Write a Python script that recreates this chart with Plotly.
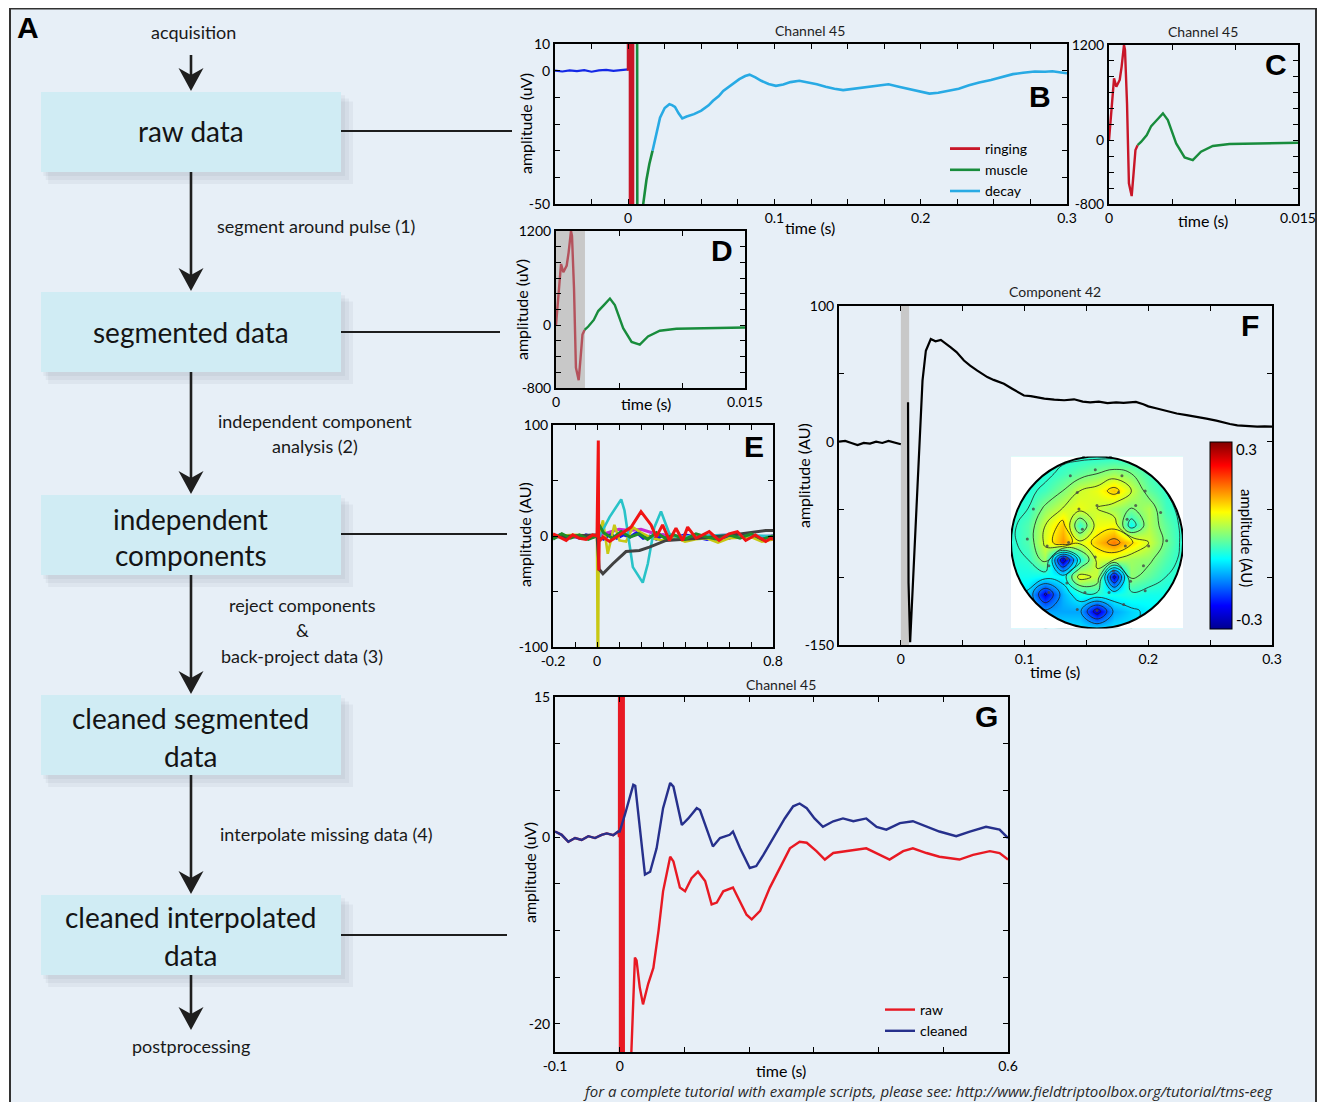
import math
import plotly.graph_objects as go

# page geometry: the figure sits inside the default 8px body margin
OX, OY = 8, 8
FW, FH = 1309, 1094
FONT = "Lato"
BOLD = "Liberation Sans"


def px(x):
    return (x - OX) / FW


def py(y):
    return 1 - (y - OY) / FH


# ---------------------------------------------------------------- data
# Panel B : Channel 45, time (s) vs amplitude (uV)
b_pre_t = [-0.05, -0.045, -0.04, -0.035, -0.03, -0.025, -0.02, -0.015, -0.01, -0.005, 0.0]
b_pre_v = [0.0, -0.3, 0.1, -0.2, 0.2, -0.4, 0.1, 0.3, -0.1, 0.2, 0.5]
b_ring_t = [0.0, 0.0005, 0.001, 0.0015, 0.002, 0.0025, 0.003, 0.0035]
b_ring_v = [0, 800, 1200, -600, -700, 500, -400, 300]
b_musc_t = [0.0035, 0.0058, 0.0066, 0.0103, 0.0125, 0.0145, 0.0167]
b_musc_v = [300, 200, -250, -50, -41, -35, -30]
b_decay_t = [0.0167, 0.019, 0.0218, 0.025, 0.0282, 0.030, 0.032, 0.0345, 0.037, 0.040, 0.045,
             0.05, 0.055, 0.058, 0.062, 0.065, 0.07, 0.076, 0.08, 0.083, 0.087, 0.091, 0.096,
             0.101, 0.106, 0.111, 0.117, 0.123, 0.129, 0.135, 0.141, 0.147, 0.153, 0.16,
             0.168, 0.173, 0.178, 0.185, 0.194, 0.2, 0.206, 0.212, 0.219, 0.226, 0.233, 0.24,
             0.248, 0.256, 0.263, 0.27, 0.278, 0.285, 0.29, 0.296, 0.3]
b_decay_v = [-30, -24, -17.6, -14, -12.6, -12.9, -13.6, -16, -17.9, -17.2, -16.3,
             -15.0, -13, -11.3, -9.5, -7.6, -5.5, -3.2, -2, -1.5, -2.5, -3.8, -5,
             -5.7, -5.2, -4.3, -3.8, -4.4, -5.1, -6, -6.8, -7.3, -6.9, -6.2,
             -5.7, -5.4, -5.1, -6, -7.0, -7.9, -8.6, -8.3, -7.6, -6.8, -5.5, -4.4,
             -3.5, -2.2, -1.3, -0.8, -0.3, -0.4, -0.2, -0.7, -1.0]

# Panels C and D : first 15 ms after the pulse
c_ring_t = [0, 0.00026, 0.0004, 0.00058, 0.00085, 0.001, 0.00119, 0.00127, 0.00143,
            0.00158, 0.0018, 0.00195, 0.0021, 0.00227]
c_ring_v = [0, 507, 780, 675, 760, 925, 1200, 1137, 465, -540, -700, -415, -120, -60]
c_musc_t = [0.00227, 0.00256, 0.003, 0.00335, 0.0038, 0.00428, 0.00467, 0.00533, 0.006,
            0.00665, 0.0073, 0.00824, 0.00956, 0.0114, 0.015]
c_musc_v = [-60, -17, 67, 180, 256, 340, 256, -38, -214, -247, -143, -71, -46, -38, -29]
d_reject = [0.0, 0.0023]

# Panel E : independent components (AU)
e_blue_t = [-0.2, -0.17, -0.14, -0.11, -0.08, -0.05, -0.02, 0.0, 0.03, 0.06, 0.09, 0.12, 0.15,
            0.18, 0.21, 0.24, 0.27, 0.3, 0.35, 0.4, 0.45, 0.5, 0.55, 0.6, 0.65, 0.7, 0.75, 0.8]
e_blue_v = [-2, 1, -3, 0, -2, 1, -1, 0, -3, 2, -2, 1, -1, 3, -2, 0, -3, 1, -2, 1, -1, -3, 0,
            -2, 1, -1, -2, 0]
e_mag_t = [-0.2, -0.1, 0.0, 0.05, 0.1, 0.15, 0.2, 0.25, 0.3, 0.4, 0.5, 0.6, 0.7, 0.8]
e_mag_v = [1, -1, 0, 3, 6, 5, 6, 3, 1, -1, 0, 1, -1, 0]
e_olive_t = [-0.2, -0.1, 0.0, 0.004, 0.008, 0.027, 0.049, 0.079, 0.102, 0.132, 0.163, 0.2,
             0.25, 0.3, 0.35, 0.4, 0.45, 0.5, 0.55, 0.6, 0.7, 0.75, 0.8]
e_olive_v = [0, 1, 0, -150, 0, 14, -16, 10, -4, -5, 8, 3, -2, -4, -1, -5, -3, -2, -6, -2,
             -1, -5, -3]
e_cyan_t = [0.0, 0.012, 0.057, 0.11, 0.125, 0.163, 0.208, 0.231, 0.261, 0.291, 0.329, 0.36,
            0.45, 0.6, 0.8]
e_cyan_v = [0, 0, 17, 33, 23, -28, -42, -25, 8, 22, 2, -1, 0, 1, 0]
e_gray_t = [-0.2, -0.1, 0.0, 0.01, 0.027, 0.072, 0.132, 0.193, 0.238, 0.314, 0.465, 0.616,
            0.7, 0.767, 0.8]
e_gray_v = [-1, 0, 1, -30, -34, -25, -14, -13, -10, -4, -2, 1, 3, 5, 5]
e_green_t = [-0.2, -0.16, -0.12, -0.08, -0.04, 0.0, 0.01, 0.03, 0.07, 0.11, 0.15, 0.19,
             0.23, 0.27, 0.31, 0.35, 0.4, 0.45, 0.5, 0.55, 0.6, 0.65, 0.7, 0.75, 0.8]
e_green_v = [-3, 2, -2, 1, -3, 0, 10, 3, -2, 4, -1, 2, -3, 3, -2, 1, -3, 2, -1, -3, 1, -2,
             2, -3, 0]
e_red_t = [-0.2, -0.17, -0.14, -0.11, -0.08, -0.05, -0.02, 0.0, 0.006, 0.008, 0.01, 0.027,
           0.057, 0.102, 0.155, 0.2, 0.246, 0.269, 0.298, 0.329, 0.359, 0.389, 0.412, 0.45,
           0.51, 0.555, 0.6, 0.638, 0.676, 0.72, 0.767, 0.79, 0.8]
e_red_v = [2, -1, -4, 1, -2, -3, 1, 0, 86, -31, -5, -1, -5, 1, 8, 22, 10, -1, 10, -4, 7, -4,
           8, -2, 4, -4, 2, 4, -4, 1, -5, -2, -3]

# Panel F : Component 42
f_pre_t = [-0.05, -0.045, -0.04, -0.035, -0.03, -0.025, -0.02, -0.015, -0.01, -0.005, 0.0]
f_pre_v = [0, 0.5, -1, -2.5, -1, -1.5, 0, -1, 0.5, -0.5, -2]
f_t = [0.0058, 0.0062, 0.0075, 0.0108, 0.0148, 0.0175, 0.0202, 0.0242, 0.028, 0.0323, 0.0403,
       0.045, 0.051, 0.056, 0.0618, 0.066, 0.0699, 0.075, 0.0833, 0.09, 0.0995, 0.105, 0.11,
       0.116, 0.124, 0.132, 0.14, 0.147, 0.153, 0.16, 0.167, 0.174, 0.18, 0.185, 0.19, 0.196,
       0.2, 0.207, 0.215, 0.223, 0.231, 0.239, 0.247, 0.255, 0.261, 0.266, 0.272, 0.28,
       0.288, 0.294, 0.3]
f_v = [29, -104, -148, -82, -3.7, 45, 67, 75.6, 74, 75, 69.5,
       66, 59.8, 56, 52.4, 50, 47.6, 45.5, 42.7, 39, 34, 33.5, 32.5,
       31.7, 31, 30.5, 31.2, 29.5, 29, 29.5, 28.4, 28.9, 28.5, 28.7, 29.3, 27.5,
       26, 24.4, 22.6, 20.7, 19.5, 18.5, 17, 15.5, 14, 13, 12, 11.5,
       11, 11.3, 11]
f_reject = [0.0, 0.0067]

# topography of component 42 (normalised head coordinates)
topo_u = [-1.0, -0.8, -0.6, -0.4, -0.2, 0.0, 0.2, 0.4, 0.6, 0.8, 1.0]
topo_v = [-1.0, -0.8, -0.6, -0.4, -0.2, 0.0, 0.2, 0.4, 0.6, 0.8, 1.0]
topo_z = [  # rows from v=-1 (back) to v=1 (front)
    [-0.10, -0.10, -0.10, -0.10, -0.10, -0.10, -0.10, -0.10, -0.10, -0.10, -0.10],
    [-0.09, -0.10, -0.14, -0.14, -0.14, -0.28, -0.14, -0.11, -0.09, -0.08, -0.08],
    [-0.08, -0.11, -0.26, -0.13, -0.07, -0.06, -0.07, -0.06, -0.07, -0.07, -0.07],
    [-0.07, -0.07, -0.08, -0.08, 0.07, 0.04, -0.27, 0.01, -0.02, -0.05, -0.06],
    [-0.06, -0.05, 0.02, -0.29, -0.07, 0.06, 0.05, 0.02, 0.01, -0.03, -0.06],
    [-0.06, -0.03, 0.06, 0.15, 0.06, 0.12, 0.17, 0.11, 0.05, -0.01, -0.06],
    [-0.06, -0.03, 0.05, 0.12, -0.05, 0.07, 0.08, -0.08, 0.03, -0.02, -0.06],
    [-0.06, -0.05, 0.01, 0.05, 0.07, 0.05, 0.02, 0.00, 0.03, -0.04, -0.06],
    [-0.06, -0.06, -0.04, 0.00, 0.05, 0.07, 0.12, 0.05, -0.02, -0.05, -0.06],
    [-0.06, -0.06, -0.06, -0.04, -0.02, 0.00, 0.02, 0.00, -0.04, -0.06, -0.06],
    [-0.06, -0.06, -0.06, -0.06, -0.06, -0.06, -0.06, -0.06, -0.06, -0.06, -0.06],
]
elec_u = [-0.31, -0.02, 0.29, -0.74, -0.23, 0.25, 0.56, -0.21, 0.0, 0.45, 0.74, -0.81, -0.58,
          -0.33, -0.17, 0.33, 0.60, 0.81, -0.56, -0.35, -0.02, 0.19, 0.35, 0.54, -0.35, -0.14,
          0.14, 0.39, 0.56, -0.56, 0.0, 0.31, -0.23]
elec_v = [0.775, 0.845, 0.775, 0.39, 0.58, 0.58, 0.60, 0.39, 0.43, 0.43, 0.35, 0.04, -0.04,
          0.0, 0.155, -0.04, -0.04, 0.02, -0.27, -0.19, -0.17, -0.33, 0.27, -0.27, -0.47, -0.58,
          -0.58, -0.45, -0.56, -0.58, -0.79, -0.72, -0.78]

# Panel G : Channel 45 raw vs cleaned
g_pre_t = [-0.1, -0.0897, -0.0794, -0.069, -0.0588, -0.0485, -0.0382, -0.028, -0.02, -0.01, -0.0022]
g_pre_v = [0.6, 0.25, -0.5, -0.1, -0.3, 0.1, -0.1, 0.25, 0.4, 0.2, 0.6]
g_ring_t = [-0.001, 0.0, 0.001, 0.002, 0.003, 0.004, 0.005, 0.006, 0.0065, 0.012]
g_ring_v = [0, 200, -300, 400, -350, 250, -300, 150, -200, -60]
g_raw_t = [0.018, 0.0235, 0.026, 0.031, 0.036, 0.044, 0.052, 0.06, 0.067, 0.078, 0.083, 0.093,
           0.101, 0.111, 0.121, 0.132, 0.142, 0.15, 0.16, 0.175, 0.186, 0.196, 0.204, 0.217,
           0.232, 0.247, 0.263, 0.278, 0.289, 0.304, 0.317, 0.33, 0.35, 0.381, 0.402, 0.417,
           0.438, 0.453, 0.474, 0.494, 0.525, 0.546, 0.572, 0.587, 0.6]
g_raw_v = [-23, -12.9, -13.2, -16.1, -17.9, -15.7, -14, -10, -5.8, -2.1, -2.6, -5.4,
           -5.8, -4.4, -3.7, -4.7, -7.2, -7.0, -5.8, -5.4, -6.9, -8.3, -8.8, -7.9,
           -5.4, -3.3, -1.2, -0.5, -0.6, -1.5, -2.4, -1.7, -1.5, -1.2, -1.9, -2.4,
           -1.5, -1.2, -1.7, -2.1, -2.4, -1.9, -1.5, -1.7, -2.4]
g_cln_t = [0.0, 0.008, 0.021, 0.024, 0.031, 0.039, 0.047, 0.057, 0.067, 0.078, 0.083, 0.096,
           0.106, 0.119, 0.124, 0.134, 0.144, 0.155, 0.17, 0.175, 0.186, 0.201, 0.211, 0.222,
           0.237, 0.255, 0.268, 0.278, 0.289, 0.301, 0.314, 0.33, 0.345, 0.361, 0.381, 0.397,
           0.412, 0.433, 0.453, 0.474, 0.494, 0.52, 0.541, 0.566, 0.587, 0.6]
g_cln_v = [0.6, 2.4, 5.6, 5.5, 1.3, -4.0, -3.7, -1.2, 3.1, 5.8, 5.4, 1.3,
           2.0, 3.1, 2.9, 1.0, -1.0, -0.1, 0.25, 0.6, -1.2, -3.3, -3.1, -1.9,
           -0.1, 2.0, 3.3, 3.6, 3.1, 2.0, 1.1, 1.7, 2.0, 1.7, 2.0, 1.1,
           0.8, 1.5, 1.7, 1.1, 0.6, 0.1, 0.6, 1.1, 0.8, -0.1]


def labelled(vals, shown):
    return [("%g" % v if v in shown else "") for v in vals]


b_xt = [-0.025, 0.0, 0.025, 0.05, 0.075, 0.1, 0.125, 0.15, 0.175, 0.2, 0.225, 0.25, 0.275, 0.3]
b_yt = [-50, -40, -30, -20, -10, 0, 10]
c_xt = [0.0, 0.005, 0.01, 0.015]
c_yt = [-800, -600, -400, -200, 0, 200, 400, 600, 800, 1000, 1200]
e_xt = [-0.2, -0.1, 0.0, 0.1, 0.2, 0.3, 0.4, 0.5, 0.6, 0.7, 0.8]
e_yt = [-100, -50, 0, 50, 100]
f_xt = [0.0, 0.05, 0.1, 0.15, 0.2, 0.25, 0.3]
f_yt = [-150, -100, -50, 0, 50, 100]
g_xt = [-0.1, 0.0, 0.1, 0.2, 0.3, 0.4, 0.5, 0.6]
g_yt = [-20, -15, -10, -5, 0, 5, 10, 15]

# ---------------------------------------------------------------- figure
fig = go.Figure()

C_RING = "rgb(200,22,40)"
C_MUSC = "rgb(24,140,60)"
C_DECAY = "rgb(40,170,228)"


def line(x, y, color, width, ax, name=None, legend=None):
    fig.add_trace(go.Scatter(
        x=x, y=y, mode="lines", line=dict(color=color, width=width),
        xaxis="x" + ax, yaxis="y" + ax, name=name or "",
        showlegend=legend is not None, legend=legend or "legend",
        hoverinfo="skip"))


# B
line(b_pre_t, b_pre_v, "rgb(20,40,230)", 2.2, "")
line(b_ring_t, b_ring_v, C_RING, 2.8, "", "ringing", "legend")
line(b_musc_t, b_musc_v, C_MUSC, 2.6, "", "muscle", "legend")
line(b_decay_t, b_decay_v, C_DECAY, 2.6, "", "decay", "legend")
# C
line(c_ring_t, c_ring_v, C_RING, 2.4, "2")
line(c_musc_t, c_musc_v, C_MUSC, 2.4, "2")
# D
line(c_ring_t, c_ring_v, "rgb(180,82,92)", 2.4, "3")
line(c_musc_t, c_musc_v, C_MUSC, 2.4, "3")
# E
line(e_blue_t, e_blue_v, "rgb(20,20,235)", 3, "4")
line(e_mag_t, e_mag_v, "rgb(200,40,210)", 3, "4")
line(e_olive_t, e_olive_v, "rgb(200,200,20)", 2.6, "4")
line(e_cyan_t, e_cyan_v, "rgb(40,195,200)", 2.6, "4")
line(e_gray_t, e_gray_v, "rgb(65,65,65)", 3, "4")
line(e_green_t, e_green_v, "rgb(30,140,40)", 3, "4")
line(e_red_t, e_red_v, "rgb(240,20,20)", 3, "4")
# F
line(f_pre_t, f_pre_v, "black", 2.2, "5")
line(f_t, f_v, "black", 2.2, "5")
# G
line(g_pre_t + g_ring_t + g_raw_t, g_pre_v + g_ring_v + g_raw_v, "rgb(232,25,35)", 2.4, "6", "raw", "legend2")
line(g_pre_t + g_cln_t, g_pre_v + g_cln_v, "rgb(38,48,140)", 2.4, "6", "cleaned", "legend2")

# topography
JET = [[0, "rgb(0,0,143)"], [0.125, "rgb(0,0,255)"], [0.375, "rgb(0,255,255)"],
       [0.625, "rgb(255,255,0)"], [0.875, "rgb(255,0,0)"], [1, "rgb(128,0,0)"]]
fig.add_trace(go.Heatmap(
    x=topo_u, y=topo_v, z=topo_z, xaxis="x7", yaxis="y7", colorscale=JET,
    zmin=-0.33, zmax=0.33, zsmooth="best", hoverinfo="skip", showlegend=False,
    colorbar=dict(x=px(1209.5), xanchor="left", y=py(628.7), yanchor="bottom",
                  len=187 / FH, lenmode="fraction", thickness=22, thicknessmode="pixels",
                  outlinecolor="black", outlinewidth=1, tickvals=[-0.3, 0.3],
                  ticktext=["-0.3", "0.3"], ticks="", xpad=0, ypad=0,
                  tickfont=dict(family=FONT, size=15, color="black"))))
fig.add_trace(go.Contour(
    x=topo_u, y=topo_v, z=topo_z, xaxis="x7", yaxis="y7", showscale=False, showlegend=False,
    autocontour=False, contours=dict(start=-0.25, end=0.25, size=0.05, coloring="none"),
    line=dict(color="rgb(30,30,30)", width=0.8, smoothing=1.3), hoverinfo="skip"))
fig.add_trace(go.Scatter(
    x=elec_u, y=elec_v, mode="markers", xaxis="x7", yaxis="y7", showlegend=False,
    marker=dict(size=3, color="rgba(70,70,70,0.8)"), hoverinfo="skip"))

# ---------------------------------------------------------------- axes
boxes = {
    "": (555, 1067, 44, 204, [-0.05, 0.3], [-50, 10], b_xt, [0, 0.1, 0.2, 0.3], b_yt, [-50, 0, 10]),
    "2": (1109, 1298, 45, 204, [0, 0.015], [-800, 1200], c_xt, [0, 0.015], c_yt, [-800, 0, 1200]),
    "3": (556, 745, 231, 388, [0, 0.015], [-800, 1200], c_xt, [0, 0.015], c_yt, [-800, 0, 1200]),
    "4": (553, 773, 425, 647, [-0.2, 0.8], [-100, 100], e_xt, [-0.2, 0, 0.8], e_yt, [-100, 0, 100]),
    "5": (839, 1272, 306, 645, [-0.05, 0.3], [-150, 100], f_xt, [0, 0.1, 0.2, 0.3], f_yt, [-150, 0, 100]),
    "6": (555, 1008, 697, 1052, [-0.1, 0.6], [-23, 15], g_xt, [-0.1, 0, 0.6], g_yt, [-20, 0, 15]),
}
tickfont = dict(family=FONT, size=14, color="black")
for k, (x0, x1, y0, y1, xr, yr, xtv, xsh, ytv, ysh) in boxes.items():
    common = dict(showline=True, linecolor="black", linewidth=2, mirror="ticks",
                  ticks="inside", ticklen=5, tickwidth=1.3, tickcolor="black",
                  showgrid=False, zeroline=False, tickmode="array", tickfont=tickfont,
                  fixedrange=True, automargin=False)
    fig.layout["xaxis" + k] = dict(domain=[px(x0), px(x1)], range=xr, anchor="y" + k,
                                   tickvals=xtv, ticktext=labelled(xtv, xsh), **common)
    fig.layout["yaxis" + k] = dict(domain=[py(y1), py(y0)], range=yr, anchor="x" + k,
                                   tickvals=ytv, ticktext=labelled(ytv, ysh), **common)

HX, HY, HR = 1097, 542.5, 86
fig.layout["xaxis7"] = dict(domain=[px(HX - HR), px(HX + HR)], range=[-1, 1], anchor="y7",
                            visible=False, fixedrange=True)
fig.layout["yaxis7"] = dict(domain=[py(HY + HR), py(HY - HR)], range=[-1, 1], anchor="x7",
                            visible=False, fixedrange=True)

# ---------------------------------------------------------------- shapes
shapes = []
# frame
shapes.append(dict(type="rect", xref="paper", yref="paper", x0=px(10), x1=px(1316),
                   y0=-0.02, y1=py(8.5), fillcolor="rgb(231,239,247)",
                   line=dict(color="rgb(50,50,50)", width=2), layer="below"))

# flow chart boxes with soft shadow
flow_boxes = [(92, 172), (292, 372), (495, 575), (695, 775), (895, 975)]
for (t, b) in flow_boxes:
    for k in (12, 8, 4):
        shapes.append(dict(type="rect", xref="paper", yref="paper",
                           x0=px(41 + k * 0.6), x1=px(341 + k), y0=py(b + k), y1=py(t + k * 0.8),
                           fillcolor="rgba(60,80,100,0.06)", line=dict(width=0), layer="below"))
    shapes.append(dict(type="rect", xref="paper", yref="paper", x0=px(41), x1=px(341),
                       y0=py(b), y1=py(t), fillcolor="rgb(208,236,244)",
                       line=dict(width=0), layer="below"))

# connectors to the panels
for (yy, xe) in [(131, 512), (332, 500), (534, 507), (935, 507)]:
    shapes.append(dict(type="line", xref="paper", yref="paper", x0=px(341), x1=px(xe),
                       y0=py(yy), y1=py(yy), line=dict(color="rgb(30,30,30)", width=2)))

# arrows
AX = 191
for (ys, yt) in [(55, 91), (172, 291), (372, 494), (575, 694), (775, 894), (975, 1030)]:
    shapes.append(dict(type="line", xref="paper", yref="paper", x0=px(AX), x1=px(AX),
                       y0=py(ys), y1=py(yt - 8), line=dict(color="rgb(30,30,30)", width=2.6)))
    hb = yt - 23
    path = "M %f,%f L %f,%f L %f,%f L %f,%f Z" % (
        px(AX - 12.5), py(hb), px(AX), py(yt), px(AX + 12.5), py(hb), px(AX), py(hb + 7))
    shapes.append(dict(type="path", xref="paper", yref="paper", path=path,
                       fillcolor="rgb(30,30,30)", line=dict(width=0)))

# rejected windows
shapes.append(dict(type="rect", xref="x3", yref="y3 domain", x0=d_reject[0], x1=d_reject[1],
                   y0=0, y1=1, fillcolor="rgb(200,200,200)", line=dict(width=0), layer="below"))
shapes.append(dict(type="rect", xref="x5", yref="y5 domain", x0=f_reject[0], x1=f_reject[1],
                   y0=0, y1=1, fillcolor="rgb(200,200,200)", line=dict(width=0), layer="below"))

# head mask / outline
N = 90
circ = " ".join(("M" if i == 0 else "L") + " %f,%f" % (math.cos(2 * math.pi * i / N),
                                                        -math.sin(2 * math.pi * i / N))
                for i in range(N)) + " Z"
mask = "M -1.03,-1.03 L 1.03,-1.03 L 1.03,1.03 L -1.03,1.03 Z " + circ
shapes.append(dict(type="path", xref="x7", yref="y7", path=mask, fillcolor="white",
                   fillrule="evenodd", line=dict(width=0), layer="above"))
shapes.append(dict(type="circle", xref="x7", yref="y7", x0=-1, x1=1, y0=-1, y1=1,
                   line=dict(color="black", width=2), layer="above"))
shapes.append(dict(type="path", xref="x7", yref="y7", path="M -0.17,0.985 L 0,1.18 L 0.17,0.985",
                   line=dict(color="black", width=2), layer="above"))
for s in (-1, 1):
    ear = "M %f,0.17 L %f,0.17 Q %f,0.17 %f,0.12 L %f,-0.22 Q %f,-0.27 %f,-0.27 L %f,-0.27" % (
        s * 1.0, s * 1.06, s * 1.1, s * 1.1, s * 1.1, s * 1.1, s * 1.06, s * 1.0)
    shapes.append(dict(type="path", xref="x7", yref="y7", path=ear,
                       line=dict(color="black", width=2), layer="above"))

fig.update_layout(shapes=shapes)

# ---------------------------------------------------------------- text
ann = []


def text(t, x, y, size=18, family=FONT, color="rgb(25,25,25)", angle=0, bold=False,
         italic=False, yanchor="middle"):
    s = t
    if bold:
        s = "<b>%s</b>" % s
    if italic:
        s = "<i>%s</i>" % s
    ann.append(dict(text=s, x=px(x), y=py(y), xref="paper", yref="paper", showarrow=False,
                    xanchor="center", yanchor=yanchor, textangle=angle, borderpad=0,
                    font=dict(family=family, size=size, color=color)))


text("acquisition", 193, 32)
text("segment around pulse (1)", 316, 226)
text("independent component", 315, 421)
text("analysis (2)", 315, 446)
text("reject components", 302, 605)
text("&", 302, 630)
text("back-project data (3)", 302, 656)
text("interpolate missing data (4)", 326, 834)
text("postprocessing", 191, 1046)
for (t, y) in [("raw data", 131), ("segmented data", 332), ("independent", 519),
               ("components", 555), ("cleaned segmented", 718), ("data", 756),
               ("cleaned interpolated", 917), ("data", 955)]:
    text(t, 191, y, size=28, color="rgb(20,20,20)")

for (t, x, y) in [("A", 28, 28), ("B", 1040, 96), ("C", 1276, 65), ("D", 722, 250),
                  ("E", 754, 446), ("F", 1250, 325), ("G", 986, 716)]:
    text(t, x, y, size=30, family=BOLD, color="black", bold=True)

for (t, x, y) in [("Channel 45", 810, 30), ("Channel 45", 1203, 32), ("Component 42", 1055, 292),
                  ("Channel 45", 781, 684)]:
    text(t, x, y, size=14, color="rgb(30,30,30)")

for (t, x, y, a) in [("amplitude (uV)", 525, 124, -90), ("time (s)", 810, 227, 0),
                     ("time (s)", 1203, 221, 0), ("amplitude (uV)", 522, 310, -90),
                     ("time (s)", 646, 404, 0), ("amplitude (AU)", 524, 535, -90),
                     ("amplitude (AU)", 803, 476, -90), ("time (s)", 1055, 671, 0),
                     ("amplitude (uV)", 529, 873, -90), ("time (s)", 781, 1070, 0)]:
    text(t, x, y, size=16, color="black", angle=a)
text("amplitude (AU)", 1247, 538, size=15, color="black", angle=90)

text("for a complete tutorial with example scripts, please see: "
     "http://www.fieldtriptoolbox.org/tutorial/tms-eeg", 928, 1102, size=15,
     family="Open Sans", color="rgb(40,40,40)", italic=True, yanchor="bottom")

fig.update_layout(
    annotations=ann,
    width=FW, height=FH, autosize=False,
    margin=dict(l=0, r=0, t=0, b=0, pad=0, autoexpand=False),
    paper_bgcolor="white", plot_bgcolor="white",
    legend=dict(x=px(945), y=py(133), xanchor="left", yanchor="top",
                bgcolor="rgba(0,0,0,0)", font=dict(family=FONT, size=14, color="black"),
                tracegroupgap=0, itemwidth=30, borderwidth=0),
    legend2=dict(x=px(880), y=py(994), xanchor="left", yanchor="top",
                 bgcolor="rgba(0,0,0,0)", font=dict(family=FONT, size=14, color="black"),
                 tracegroupgap=0, itemwidth=30, borderwidth=0),
    hovermode=False,
)

fig.write_html("out.html", config={"displayModeBar": False})
